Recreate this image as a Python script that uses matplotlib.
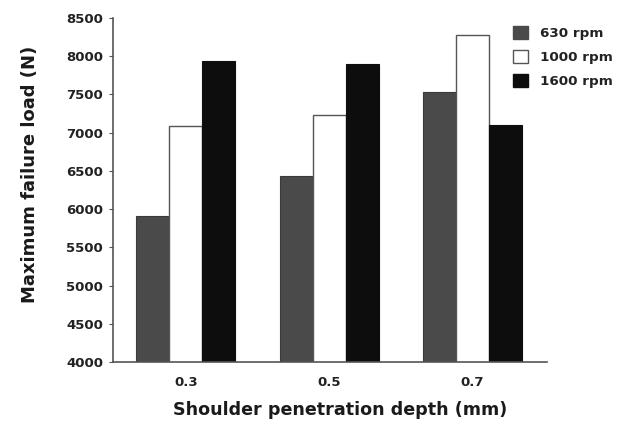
import numpy as np
import matplotlib.pyplot as plt
from matplotlib.patches import Patch

# =====================================================
# DATA
# =====================================================

depths = ['0.3', '0.5', '0.7']

load_630 = [5910, 6440, 7530]
load_1000 = [7090, 7230, 8280]
load_1600 = [7940, 7900, 7100]

series_labels = ['630 rpm', '1000 rpm', '1600 rpm']

# =====================================================
# FIGURE
# =====================================================

plt.rcParams['font.family'] = ['DejaVu Sans']

fig = plt.figure(figsize=(6.23, 4.29), dpi=100)
ax = fig.add_axes([0.181, 0.156, 0.697, 0.802])

x = np.arange(len(depths))
width = 0.23

ax.bar(x - width, load_630, width,
       color='#4a4a4a', edgecolor='#3a3a3a', linewidth=0.8)
ax.bar(x, load_1000, width,
       color='white', edgecolor='#555555', linewidth=1.0)
ax.bar(x + width, load_1600, width,
       color='#0d0d0d', edgecolor='#0d0d0d', linewidth=0.8)

# =====================================================
# AXES
# =====================================================

ax.set_ylim(4000, 8500)
ax.set_yticks(np.arange(4000, 8501, 500))
ax.set_xlim(-0.51, 2.52)
ax.set_xticks(x)
ax.set_xticklabels(depths)

for side in ['top', 'right']:
    ax.spines[side].set_visible(False)
for side in ['left', 'bottom']:
    ax.spines[side].set_color('#555555')
    ax.spines[side].set_linewidth(1.2)

ax.tick_params(axis='y', length=3, color='#555555', labelsize=9.5,
               labelcolor='#222222', pad=4)
ax.tick_params(axis='x', length=0, labelsize=9.5,
               labelcolor='#222222', pad=10)
for lab in ax.get_xticklabels() + ax.get_yticklabels():
    lab.set_fontweight('bold')

ax.set_ylabel('Maximum failure load (N)', fontsize=13,
              fontweight='bold', color='#1a1a1a')
ax.set_xlabel('Shoulder penetration depth (mm)', fontsize=12.6,
              fontweight='bold', color='#1a1a1a')
ax.yaxis.set_label_coords(-0.17, 0.547)
ax.xaxis.set_label_coords(0.523, -0.112)

# =====================================================
# LEGEND
# =====================================================

handles = [
    Patch(facecolor='#4a4a4a', edgecolor='#4a4a4a'),
    Patch(facecolor='white', edgecolor='#555555'),
    Patch(facecolor='#0d0d0d', edgecolor='#0d0d0d'),
]

legend = fig.legend(handles, series_labels,
                    loc='upper left',
                    bbox_to_anchor=(0.8235, 0.94),
                    frameon=False,
                    borderpad=0,
                    borderaxespad=0,
                    prop={'size': 9.7, 'weight': 'bold'},
                    handlelength=1.1,
                    handleheight=1.1,
                    handletextpad=0.9,
                    labelspacing=0.75)
for t in legend.get_texts():
    t.set_color('#222222')

fig.savefig('out.png', dpi=100)
